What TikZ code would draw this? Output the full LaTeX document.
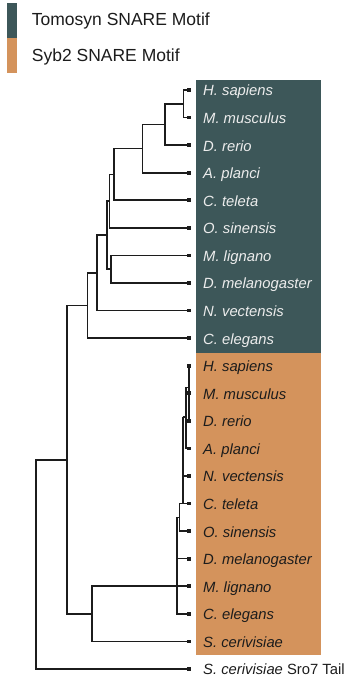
\documentclass[tikz,border=0pt]{standalone}
\usepackage{fontspec}
\setmainfont{Liberation Sans}
\definecolor{tomocol}{HTML}{3D5759}
\definecolor{sybcol}{HTML}{D4935C}
\definecolor{treeink}{HTML}{1C1C1C}
\definecolor{lighttxt}{HTML}{EDEDED}
\begin{document}
\begin{tikzpicture}[x=1pt,y=-1pt,
  branch/.style={draw=treeink,line width=1.6pt},
  leafdot/.style={fill=treeink,inner sep=0pt,minimum size=3.8pt,rectangle},
  sp/.style={anchor=base west,inner sep=0pt,font=\fontsize{14.8}{17}\selectfont\itshape},
  tomotxt/.style={sp,text=lighttxt},
  sybtxt/.style={sp,text=treeink},
  legtxt/.style={anchor=base west,inner sep=0pt,font=\fontsize{17.5}{20}\selectfont,text=treeink}]
\useasboundingbox (0,0) rectangle (350,679);
% legend
\fill[tomocol] (7.3,3.3) rectangle (17.3,37.7);
\fill[sybcol] (7.3,37.7) rectangle (17.3,72.7);
\node[legtxt] (legA) at (31.7,26) {Tomosyn SNARE Motif};
\node[legtxt] (legB) at (31.7,61.7) {Syb2 SNARE Motif};
% background boxes
\fill[tomocol] (196,80) rectangle (321,353);
\fill[sybcol] (196,353) rectangle (321,655);
% leaves
\foreach \i in {0,...,21} {
  \coordinate (l\i) at (189,{90+27.57*\i});
}
% labels
\foreach \i/\t in {0/H. sapiens,1/M. musculus,2/D. rerio,3/A. planci,4/C. teleta,5/O. sinensis,6/M. lignano,7/D. melanogaster,8/N. vectensis,9/C. elegans} {
  \node[tomotxt] (t\i) at (203,{96+27.57*\i}) {\t};
}
\foreach \i/\t in {10/H. sapiens,11/M. musculus,12/D. rerio,13/A. planci,14/N. vectensis,15/C. teleta,16/O. sinensis,17/D. melanogaster,18/M. lignano,19/C. elegans,20/S. cerivisiae} {
  \node[sybtxt] (t\i) at (203,{96+27.57*\i}) {\t};
}
\node[sp,text=treeink] (t21) at (203,{96+27.57*21}) {S. cerivisiae\upshape{} Sro7 Tail};
% internal nodes (upper clade)
\coordinate (a1) at (183.3,103.8);
\coordinate (a2) at (164.7,124.5);
\coordinate (a3) at (142.3,148.6);
\coordinate (a4) at (114,174.4);
\coordinate (a5) at (109.5,201.1);
\coordinate (a7) at (111,269.2);
\coordinate (a6) at (106.7,235.2);
\coordinate (a8) at (96.7,272.9);
\coordinate (a9) at (87.3,305.5);
\coordinate (broot) at (91.7,613.8);
\coordinate (a10) at (66.7,459.7);
\coordinate (root) at (35.7,564.3);
% internal nodes (lower clade)
\coordinate (b1) at (189,387.3);
\coordinate (b2) at (186,416.7);
\coordinate (b3) at (182.7,416.7);
\coordinate (b4) at (179.3,517.3);
\coordinate (b5) at (176.7,517.3);
% upper clade branches
\draw[branch] (a1) |- (l0); \draw[branch] (a1) |- (l1);
\draw[branch] (a2) |- (a1); \draw[branch] (a2) |- (l2);
\draw[branch] (a3) |- (a2); \draw[branch] (a3) |- (l3);
\draw[branch] (a4) |- (a3); \draw[branch] (a4) |- (l4);
\draw[branch] (a5) |- (a4); \draw[branch] (a5) |- (l5);
\draw[branch] (a7) |- (l6); \draw[branch] (a7) |- (l7);
\draw[branch] (a6) |- (a5); \draw[branch] (a6) |- (a7);
\draw[branch] (a8) |- (a6); \draw[branch] (a8) |- (l8);
\draw[branch] (a9) |- (a8); \draw[branch] (a9) |- (l9);
% lower clade branches
\draw[branch] (l10) -- (l12);
\draw[branch] (b2) |- (b1); \draw[branch] (b2) |- (l13);
\draw[branch] (b3) -- (b2);
\draw[branch] (b3) |- (l14); \draw[branch] (b3) |- (l15);
\draw[branch] (b4) |- (l15); \draw[branch] (b4) |- (l16);
\draw[branch] (b5) -- (b4);
\draw[branch] (b5) |- (l17); \draw[branch] (b5) |- (l19);
\draw[branch] (broot) |- (l18); \draw[branch] (broot) |- (l20);
\draw[branch] (a10) |- (a9); \draw[branch] (a10) |- (broot);
\draw[branch] (root) |- (a10); \draw[branch] (root) |- (l21);
% leaf dots
\foreach \i in {0,...,21} {
  \node[leafdot] (d\i) at (l\i) {};
}
\end{tikzpicture}
\end{document}
